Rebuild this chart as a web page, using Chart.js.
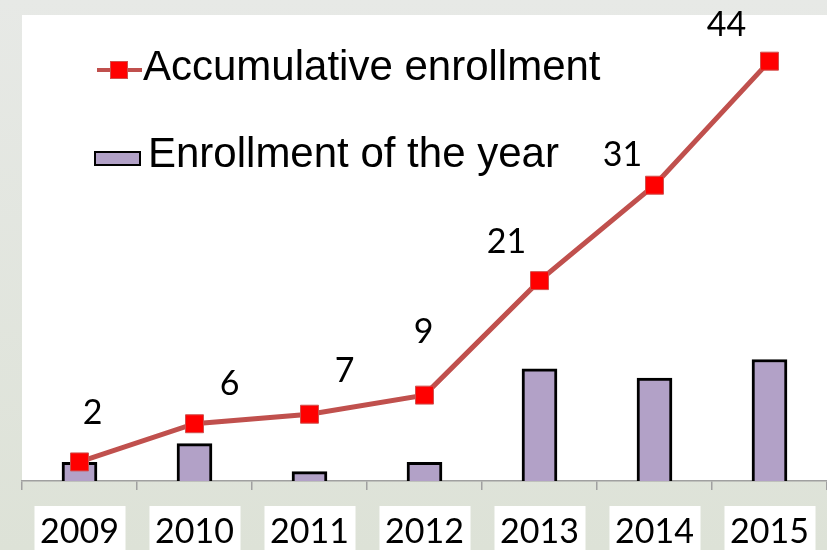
<!DOCTYPE html>
<html><head><meta charset="utf-8">
<script src="https://cdn.jsdelivr.net/npm/chart.js@4.4.1/dist/chart.umd.min.js"></script>
<style>html,body{margin:0;padding:0;background:#e3e6e0;overflow:hidden}#wrap{width:827px;height:550px;position:relative}</style>
</head><body><div id="wrap"><canvas id="c" width="827" height="550"></canvas></div>
<script>
const years = ['2009', '2010', '2011', '2012', '2013', '2014', '2015'];
const accumulative = [2, 6, 7, 9, 21, 31, 44];
const yearly = [2, 4, 1, 2, 12, 11, 13];
const seriesNames = ['Accumulative enrollment', 'Enrollment of the year'];

// label placement offsets (style only, px from each marker)
const labelOffsets = [[13, -49], [35, -40], [35, -43], [-1, -63], [-33, -39], [-32, -30], [-43, -36]];

const bgPlugin = {
  id: 'bg',
  beforeDraw(chart) {
    const ctx = chart.ctx, W = chart.width, H = chart.height;
    ctx.save();
    const g = ctx.createLinearGradient(0, 0, 0, H);
    g.addColorStop(0, '#e7e9e6');
    g.addColorStop(1, '#dde2d7');
    ctx.fillStyle = g;
    ctx.fillRect(0, 0, W, H);
    const a = chart.chartArea;
    ctx.fillStyle = '#ffffff';
    ctx.fillRect(a.left, 15, a.right - a.left, a.bottom - 15);
    const xs = chart.scales.x;
    years.forEach((_, i) => {
      const x = xs.getPixelForTick(i);
      ctx.fillRect(x - 45, 506, 91, H - 506);
    });
    ctx.restore();
  }
};

const labelPlugin = {
  id: 'vals',
  afterDatasetsDraw(chart) {
    const ctx = chart.ctx;
    const meta = chart.getDatasetMeta(0);
    ctx.save();
    ctx.font = '34px Lato';
    ctx.fillStyle = '#000';
    ctx.textAlign = 'center';
    ctx.textBaseline = 'middle';
    meta.data.forEach((el, i) => {
      const o = labelOffsets[i];
      ctx.fillText(String(accumulative[i]), el.x + o[0], el.y + o[1]);
    });
    ctx.restore();
  }
};

const legendPlugin = {
  id: 'customLegend',
  afterDraw(chart) {
    const ctx = chart.ctx;
    const ds = chart.data.datasets;
    ctx.save();
    ctx.strokeStyle = ds[0].borderColor;
    ctx.lineWidth = 4;
    ctx.beginPath(); ctx.moveTo(97, 70); ctx.lineTo(142, 70); ctx.stroke();
    ctx.fillStyle = ds[0].pointBackgroundColor;
    ctx.fillRect(110, 61, 18, 18);
    ctx.strokeStyle = ds[0].pointBorderColor; ctx.lineWidth = 1;
    ctx.strokeRect(110.5, 61.5, 17, 17);
    ctx.font = '42px "Liberation Sans", Arial, sans-serif';
    ctx.fillStyle = '#000';
    ctx.textBaseline = 'alphabetic';
    ctx.textAlign = 'left';
    ctx.fillText(ds[0].label, 143, 80);
    ctx.fillStyle = ds[1].backgroundColor;
    ctx.fillRect(95, 152, 45, 13);
    ctx.strokeStyle = '#000'; ctx.lineWidth = 2;
    ctx.strokeRect(95, 152, 45, 13);
    ctx.fillStyle = '#000';
    ctx.fillText(ds[1].label, 148, 167);
    ctx.restore();
  }
};

new Chart(document.getElementById('c'), {
  data: {
    labels: years,
    datasets: [
      {
        type: 'line', label: seriesNames[0], data: accumulative, yAxisID: 'y', order: 0,
        borderColor: '#c0504d', borderWidth: 5, tension: 0, fill: false,
        pointStyle: 'rect', pointRadius: 12.7, pointHoverRadius: 12.7,
        pointBackgroundColor: '#ff0000', pointBorderColor: '#d0504d', pointBorderWidth: 1
      },
      {
        type: 'bar', label: seriesNames[1], data: yearly, yAxisID: 'y2', order: 1,
        backgroundColor: '#b2a1c7', borderColor: '#000000', borderWidth: 3,
        barThickness: 35
      }
    ]
  },
  options: {
    responsive: false,
    animation: false,
    devicePixelRatio: 1,
    layout: { autoPadding: false, padding: { left: 22, right: 0, top: 23, bottom: 0 } },
    plugins: { legend: { display: false }, tooltip: { enabled: false } },
    scales: {
      x: {
        offset: true,
        grid: { offset: true, drawOnChartArea: false, drawTicks: true, tickLength: 9, color: '#a0a0a0', lineWidth: 1.5 },
        border: { display: true, color: '#a0a0a0', width: 1.5 },
        ticks: { font: { family: 'Lato', size: 34 }, color: '#000', padding: 22, maxRotation: 0, autoSkip: false },
        afterFit(s) { s.height = 69; s.paddingLeft = 0; s.paddingRight = 0; }
      },
      y: { display: false, min: 0, max: 48 },
      y2: { display: false, min: 0, max: 49 }
    }
  },
  plugins: [bgPlugin, labelPlugin, legendPlugin]
});
</script>
</body></html>
